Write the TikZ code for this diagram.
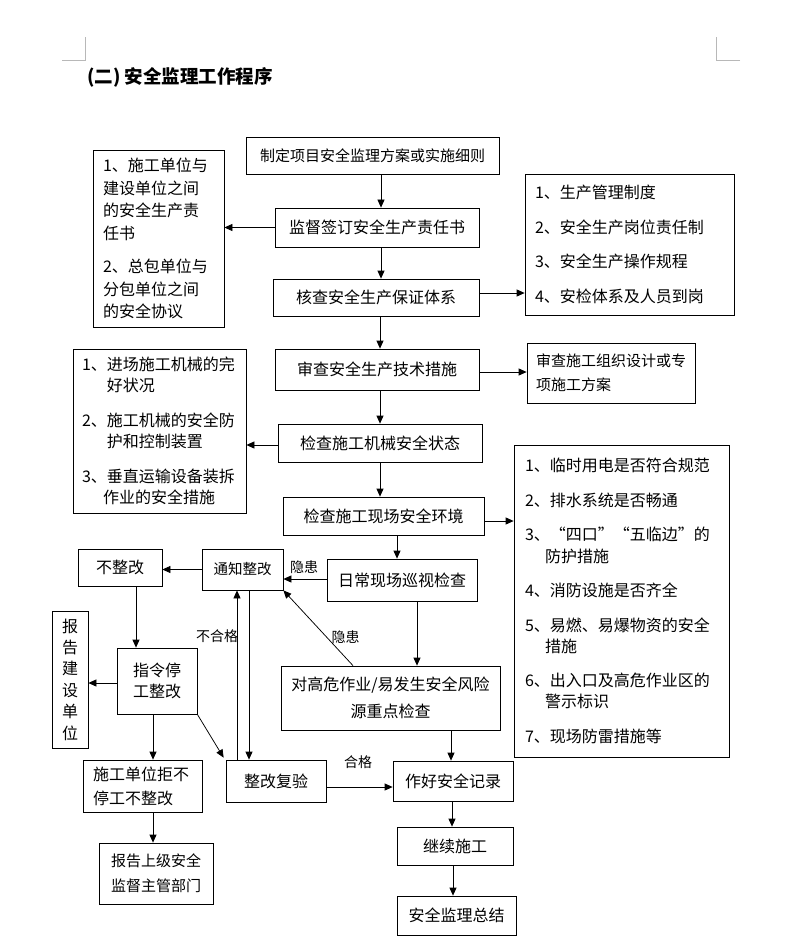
\documentclass[tikz,border=0pt]{standalone}
\usepackage{fontspec}
\setmainfont{Noto Sans CJK SC}
\usetikzlibrary{arrows.meta,calc}
\begin{document}
\begin{tikzpicture}[x=1pt,y=-1pt,
  box/.style={draw=black,line width=0.75pt,inner sep=0pt,font=\fontsize{16}{19}\selectfont},
  lbox/.style={box,align=left},
  arr/.style={draw=black,line width=0.75pt,-{Triangle[length=8pt,width=7pt]}},
  lbl/.style={inner sep=0pt,font=\fontsize{14}{16}\selectfont},
  cornermark/.style={draw=black!28,line width=0.9pt}
]
\useasboundingbox[fill=white] (0,0) rectangle (792,941);

% page corner marks
\draw[cornermark] (62,60) -- (85,60) -- (85,37);
\draw[cornermark] (740,60) -- (716,60) -- (716,37);

% title
\node[anchor=west,inner sep=0pt,font=\fontsize{18.5}{20}\selectfont\bfseries] (title) at (87,77) {(二) 安全监理工作程序};

% main column
\node[box,minimum width=253pt,minimum height=37pt,font=\fontsize{15}{18}\selectfont] (b1) at (372.5,155.5) {制定项目安全监理方案或实施细则};
\node[box,minimum width=204pt,minimum height=39pt] (b2) at (377,227.5) {监督签订安全生产责任书};
\node[box,minimum width=206pt,minimum height=37pt] (b3) at (376,297.5) {核查安全生产保证体系};
\node[box,minimum width=204pt,minimum height=41pt] (b4) at (377,369.5) {审查安全生产技术措施};
\node[box,minimum width=204pt,minimum height=38pt] (b5) at (380,443) {检查施工机械安全状态};
\node[box,minimum width=201pt,minimum height=38pt] (b6) at (383.5,516) {检查施工现场安全环境};

% side boxes
\node[lbox,inner xsep=10pt,text width=111pt,minimum height=177pt,font=\fontsize{16}{22.7}\selectfont] (L1) at (158.5,238.5)
  {1、施工单位与\\建设单位之间\\的安全生产责\\任书\\[10.3pt]2、总包单位与\\分包单位之间\\的安全协议};
\node[lbox,inner xsep=10pt,text width=189pt,minimum height=141pt,font=\fontsize{16}{34.4}\selectfont] (R1) at (629.5,244.5)
  {1、生产管理制度\\2、安全生产岗位责任制\\3、安全生产操作规程\\4、安检体系及人员到岗};
\node[lbox,inner xsep=9pt,text width=150pt,minimum height=60pt,font=\fontsize{15}{24}\selectfont] (R2) at (611,373)
  {审查施工组织设计或专\\项施工方案};
\node[lbox,inner xsep=9pt,text width=155pt,minimum height=164pt,font=\fontsize{16}{20.7}\selectfont] (L2) at (159.5,431)
  {1、进场施工机械的完\\\phantom{1、}好状况\\[14.5pt]2、施工机械的安全防\\\phantom{2、}护和控制装置\\[14.5pt]3、垂直运输设备装拆\\\hspace{21pt}作业的安全措施};
\node[lbox,inner xsep=11pt,text width=193pt,minimum height=312pt,font=\fontsize{16}{21}\selectfont] (R3) at (621.5,601)
  {1、临时用电是否符合规范\\[13.6pt]2、排水系统是否畅通\\[13.6pt]3、“四口”“五临边”的\\\hspace{20pt}防护措施\\[13.6pt]4、消防设施是否齐全\\[13.6pt]5、易燃、易爆物资的安全\\\hspace{20pt}措施\\[13.6pt]6、出入口及高危作业区的\\\hspace{20pt}警示标识\\[13.6pt]7、现场防雷措施等};

% lower part
\node[box,minimum width=150pt,minimum height=42pt] (daily) at (402,580) {日常现场巡视检查};
\node[box,minimum width=81pt,minimum height=41pt,font=\fontsize{14.5}{17}\selectfont] (notify) at (242.5,569.5) {通知整改};
\node[box,minimum width=84pt,minimum height=37pt] (noref) at (120,567.5) {不整改};
\node[box,minimum width=80pt,minimum height=66pt,align=center,font=\fontsize{16}{21}\selectfont] (stop) at (157,681) {指令停\\工整改};
\node[box,minimum width=36pt,minimum height=137pt,align=center,font=\fontsize{16}{21.4}\selectfont] (report) at (70,679.5) {报\\告\\建\\设\\单\\位};
\node[box,minimum width=219pt,minimum height=64pt,align=center,font=\fontsize{16}{27}\selectfont] (high) at (390.5,698) {对高危作业/易发生安全风险\\源重点检查};
\node[box,minimum width=100pt,minimum height=42pt] (recheck) at (276,781) {整改复验};
\node[lbox,inner xsep=10pt,text width=99pt,minimum height=52pt,font=\fontsize{16}{24}\selectfont] (refuse) at (142.5,786) {施工单位拒不\\停工不整改};
\node[box,minimum width=114pt,minimum height=61pt,align=center,font=\fontsize{15}{25}\selectfont] (upper) at (156,873.5) {报告上级安全\\监督主管部门};
\node[box,minimum width=120pt,minimum height=40pt] (record) at (453,781) {作好安全记录};
\node[box,minimum width=116pt,minimum height=38pt] (cont) at (455,846) {继续施工};
\node[box,minimum width=119pt,minimum height=39pt] (summ) at (456.5,915.5) {安全监理总结};

% labels
\node[lbl] (h1) at (304,567) {隐患};
\node[lbl] (h2) at (345.5,637) {隐患};
\node[lbl] (bhg) at (217,636) {不合格};
\node[lbl] (hg) at (358,762) {合格};

% connectors
\draw[arr] (b1.south -| 381,0) -- (b2.north -| 381,0);
\draw[arr] (b2.west) -- (b2.west -| L1.east);
\draw[arr] (b2.south -| 381,0) -- (b3.north -| 381,0);
\draw[arr] (b3.east |- 0,293) -- (R1.west |- 0,293);
\draw[arr] (b3.south -| 380,0) -- (b4.north -| 380,0);
\draw[arr] (b4.east |- 0,372) -- (R2.west |- 0,372);
\draw[arr] (b4.south -| 380,0) -- (b5.north -| 380,0);
\draw[arr] (b5.west |- 0,445) -- (L2.east |- 0,445);
\draw[arr] (b5.south -| 380,0) -- (b6.north -| 380,0);
\draw[arr] (b6.east |- 0,521) -- (R3.west |- 0,521);
\draw[arr] (b6.south -| 397,0) -- (daily.north -| 397,0);
\draw[arr] (daily.west |- 0,579) -- (notify.east |- 0,579);
\draw[arr] (notify.west) -- (notify.west -| noref.east);
\draw[arr] (noref.south -| 136,0) -- (stop.north -| 136,0);
\draw[arr] (stop.west |- 0,683) -- (report.east |- 0,683);
\draw[arr] (daily.south -| 417,0) -- (high.north -| 417,0);
\draw[arr] (high.north -| 353,0) -- (notify.south east);
\draw[arr] (recheck.north -| 237,0) -- (notify.south -| 237,0);
\draw[arr] (notify.south -| 249,0) -- (recheck.north -| 249,0);
\draw[arr] (stop.south east) -- ([shift={(-2,-2)}]recheck.north west);
\draw[arr] (stop.south -| 153,0) -- (refuse.north -| 153,0);
\draw[arr] (refuse.south -| 153,0) -- (upper.north -| 153,0);
\draw[arr] (high.south -| 451,0) -- (record.north -| 451,0);
\draw[arr] (recheck.east |- 0,787) -- (record.west |- 0,787);
\draw[arr] (record.south -| 452,0) -- (cont.north -| 452,0);
\draw[arr] (cont.south -| 453,0) -- (summ.north -| 453,0);
\end{tikzpicture}
\end{document}
